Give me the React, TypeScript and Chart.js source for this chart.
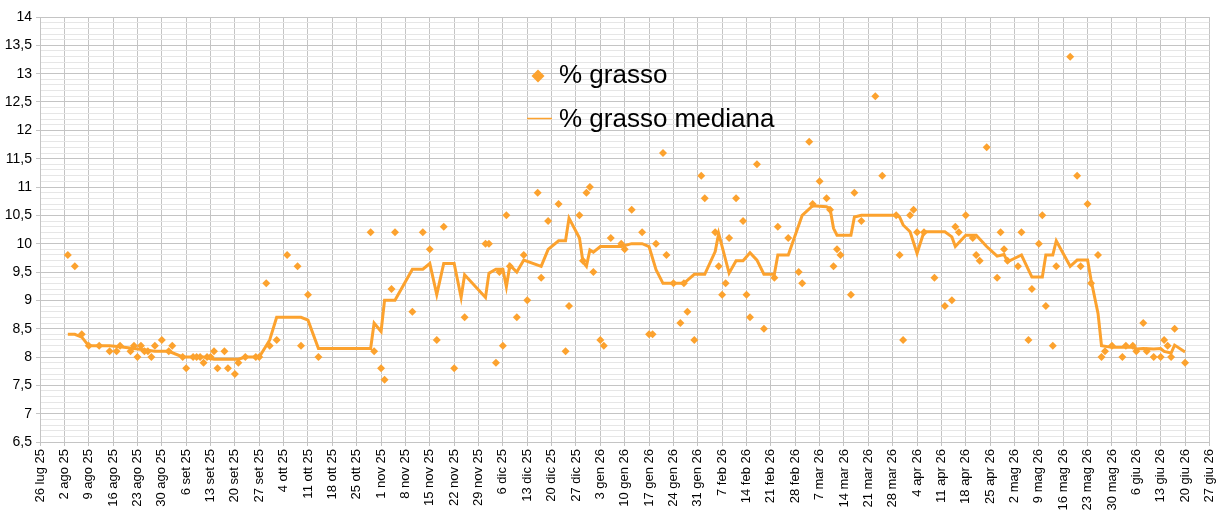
import { useEffect, useRef } from 'react';
import { Chart, registerables } from 'chart.js';

Chart.register(...registerables);

// x values are days since 26 lug 2025
const TICK_LABELS = [
  '26 lug 25', '2 ago 25', '9 ago 25', '16 ago 25', '23 ago 25', '30 ago 25', '6 set 25', '13 set 25',
  '20 set 25', '27 set 25', '4 ott 25', '11 ott 25', '18 ott 25', '25 ott 25', '1 nov 25', '8 nov 25',
  '15 nov 25', '22 nov 25', '29 nov 25', '6 dic 25', '13 dic 25', '20 dic 25', '27 dic 25', '3 gen 26',
  '10 gen 26', '17 gen 26', '24 gen 26', '31 gen 26', '7 feb 26', '14 feb 26', '21 feb 26', '28 feb 26',
  '7 mar 26', '14 mar 26', '21 mar 26', '28 mar 26', '4 apr 26', '11 apr 26', '18 apr 26', '25 apr 26',
  '2 mag 26', '9 mag 26', '16 mag 26', '23 mag 26', '30 mag 26', '6 giu 26', '13 giu 26', '20 giu 26',
  '27 giu 26',
];

const FAT_DAYS = [
  8, 10, 12, 14, 17, 20, 22, 23, 26, 27, 28, 29, 30, 31, 32, 33, 35, 37, 38, 41, 42, 44, 45, 46, 47, 48, 49, 50,
  51, 53, 54, 56, 57, 59, 62, 63, 65, 66, 68, 71, 74, 75, 77, 80, 95, 96, 98, 99, 101, 102, 107, 110, 112, 114,
  116, 119, 122, 128, 129, 131, 132, 133, 134, 135, 137, 139, 140, 143, 144, 146, 149, 151, 152, 155, 156, 157,
  158, 159, 161, 162, 164, 167, 168, 170, 173, 175, 176, 177, 179, 180, 182, 184, 185, 186, 188, 190, 191, 194,
  195, 196, 197, 198, 200, 202, 203, 204, 206, 208, 211, 212, 215, 218, 219, 221, 222, 224, 226, 227, 228, 229,
  230, 233, 234, 236, 240, 242, 246, 247, 248, 250, 251, 252, 254, 257, 260, 262, 263, 264, 266, 268, 269, 270,
  272, 275, 276, 277, 278, 281, 282, 284, 285, 287, 288, 289, 291, 292, 296, 298, 299, 301, 302, 304, 305, 306,
  308, 311, 312, 314, 315, 317, 318, 320, 322, 323, 324, 325, 326, 329,
];
const FAT_VALUES = [
  9.8, 9.6, 8.4, 8.2, 8.2, 8.1, 8.1, 8.2, 8.1, 8.2, 8.0, 8.2, 8.1, 8.1, 8.0, 8.2, 8.3, 8.1, 8.2, 8.0, 7.8, 8.0, 8.0, 8.0, 7.9, 8.0, 8.0, 8.1,
  7.8, 8.1, 7.8, 7.7, 7.9, 8.0, 8.0, 8.0, 9.3, 8.2, 8.3, 9.8, 9.6, 8.2, 9.1, 8.0, 10.2, 8.1, 7.8, 7.6, 9.2, 10.2, 8.8, 10.2, 9.9, 8.3,
  10.3, 7.8, 8.7, 10.0, 10.0, 7.9, 9.5, 8.2, 10.5, 9.6, 8.7, 9.8, 9.0, 10.9, 9.4, 10.4, 10.7, 8.1, 8.9, 10.5, 9.7, 10.9,
  11.0, 9.5, 8.3, 8.2, 10.1, 10.0, 9.9, 10.6, 10.2, 8.4, 8.4, 10.0, 11.6, 9.8, 9.3, 8.6, 9.3, 8.8, 8.3, 11.2, 10.8, 10.2,
  9.6, 9.1, 9.3, 10.1, 10.8, 10.4, 9.1, 8.7, 11.4, 8.5, 9.4, 10.3, 10.1, 9.5, 9.3, 11.8, 10.7, 11.1, 10.8, 10.6, 9.6, 9.9,
  9.8, 9.1, 10.9, 10.4, 12.6, 11.2, 10.5, 9.8, 8.3, 10.5, 10.6, 10.2, 10.2, 9.4, 8.9, 9.0, 10.3, 10.2, 10.5, 10.1, 9.8, 9.7,
  11.7, 9.4, 10.2, 9.9, 9.7, 9.6, 10.2, 8.3, 9.2, 10.0, 10.5, 8.9, 8.2, 9.6, 13.3, 11.2, 9.6, 10.7, 9.3, 9.8, 8.0, 8.1,
  8.2, 8.0, 8.2, 8.2, 8.1, 8.6, 8.1, 8.0, 8.0, 8.3, 8.2, 8.0, 8.5, 7.9,
];

const MEDIAN_DAYS = [
  8, 10, 12, 14, 20, 23, 27, 33, 37, 41, 47, 50, 57, 59, 63, 65, 66, 68, 75, 77, 80, 95, 96, 98, 99, 102, 107, 110,
  112, 114, 116, 119, 121, 122, 128, 129, 131, 133, 134, 135, 137, 139, 144, 146, 149, 151, 152, 155, 156, 157, 158,
  159, 161, 167, 170, 173, 175, 177, 179, 185, 188, 191, 194, 195, 198, 200, 202, 204, 206, 208, 211, 212, 215, 219,
  222, 226, 227, 228, 229, 233, 234, 236, 246, 247, 248, 250, 252, 254, 260, 262, 263, 266, 269, 272, 275, 277, 278,
  282, 285, 288, 289, 291, 292, 296, 298, 301, 302, 304, 305, 308, 314, 315, 317, 320, 322, 323, 325, 326, 329,
];
const MEDIAN_VALUES = [
  8.4, 8.4, 8.35, 8.2, 8.2, 8.18, 8.15, 8.1, 8.1, 8.0, 8.0, 7.96, 7.96, 8.0, 8.0, 8.2, 8.3, 8.7, 8.7, 8.65, 8.15, 8.15, 8.6, 8.45, 9.0, 9.0, 9.55, 9.55,
  9.65, 9.1, 9.65, 9.65, 9.05, 9.45, 9.05, 9.48, 9.55, 9.55, 9.24, 9.62, 9.5, 9.71, 9.6, 9.9, 10.05, 10.05, 10.45, 10.1, 9.68, 9.6, 9.89,
  9.85, 9.95, 9.95, 10.0, 10.0, 9.95, 9.54, 9.3, 9.3, 9.46, 9.46, 9.86, 10.18, 9.48, 9.7, 9.7, 9.84, 9.71, 9.46, 9.46, 9.8, 9.8, 10.5,
  10.67, 10.65, 10.62, 10.27, 10.15, 10.15, 10.47, 10.5, 10.5, 10.47, 10.33, 10.21, 9.83, 10.21, 10.21, 10.12, 9.95, 10.15, 10.15, 9.95, 9.78, 9.81, 9.68,
  9.8, 9.41, 9.41, 9.8, 9.8, 10.05, 9.6, 9.71, 9.71, 9.36, 8.77, 8.2, 8.17, 8.17, 8.14, 8.15, 8.14, 8.15, 8.1, 8.07, 8.21, 8.09,
];

const X_MIN = 0;
const X_MAX = 336;
const X_STEP = 7;
const Y_MIN = 6.5;
const Y_MAX = 14;

const ORANGE = '#fca22e';
const FONT = '"Liberation Sans", Arial, sans-serif';
const MAJOR_GRID = '#c4c4c4';
const MINOR_GRID = '#e6e6e6';

const isMajorY = (v: number) => Math.round(v * 10) % 5 === 0;

const legendPlugin = {
  id: 'insideLegend',
  afterDraw(chart: any) {
    const { ctx, chartArea } = chart;
    const x0 = chartArea.left + 498;
    const y0 = chartArea.top;
    ctx.save();
    // diamond marker
    ctx.fillStyle = ORANGE;
    ctx.beginPath();
    ctx.moveTo(x0, y0 + 52.5);
    ctx.lineTo(x0 + 6.5, y0 + 59);
    ctx.lineTo(x0, y0 + 65.5);
    ctx.lineTo(x0 - 6.5, y0 + 59);
    ctx.closePath();
    ctx.fill();
    // line marker
    ctx.strokeStyle = ORANGE;
    ctx.lineWidth = 1.5;
    ctx.beginPath();
    ctx.moveTo(x0 - 11, y0 + 101.5);
    ctx.lineTo(x0 + 14, y0 + 101.5);
    ctx.stroke();
    ctx.fillStyle = '#000';
    ctx.font = `26px ${FONT}`;
    ctx.textAlign = 'left';
    ctx.textBaseline = 'alphabetic';
    ctx.fillText(chart.data.datasets[1].label, x0 + 21, y0 + 66);
    ctx.fillText(chart.data.datasets[0].label, x0 + 21, y0 + 110);
    ctx.restore();
  },
};

export default function App() {
  const ref = useRef<HTMLCanvasElement>(null);
  useEffect(() => {
    const chart = new Chart(ref.current as HTMLCanvasElement, {
      type: 'scatter',
      data: {
        datasets: [
          {
            label: '% grasso mediana',
            data: MEDIAN_DAYS.map((d, i) => ({ x: d, y: MEDIAN_VALUES[i] })),
            showLine: true,
            borderColor: ORANGE,
            backgroundColor: ORANGE,
            borderWidth: 3,
            pointRadius: 0,
            pointHoverRadius: 0,
            tension: 0,
            order: 0,
          },
          {
            label: '% grasso',
            data: FAT_DAYS.map((d, i) => ({ x: d, y: FAT_VALUES[i] })),
            showLine: false,
            pointStyle: 'rectRot',
            pointRadius: 4,
            backgroundColor: ORANGE,
            borderColor: ORANGE,
            borderWidth: 0,
            order: 1,
          },
        ],
      },
      options: {
        animation: false,
        responsive: false,
        devicePixelRatio: 1,
        layout: { padding: { top: 17, right: 13, left: 0, bottom: 0 } },
        plugins: { legend: { display: false }, tooltip: { enabled: false } },
        scales: {
          x: {
            type: 'linear',
            min: X_MIN,
            max: X_MAX,
            afterFit: (scale: any) => {
              scale.height = 78;
            },
            afterBuildTicks: (scale: any) => {
              const t = [];
              for (let v = X_MIN; v <= X_MAX; v += X_STEP) t.push({ value: v });
              scale.ticks = t;
            },
            ticks: {
              autoSkip: false,
              maxRotation: 90,
              minRotation: 90,
              padding: 3,
              color: '#000',
              font: { family: FONT, size: 13 },
              callback: (v: any) => TICK_LABELS[Math.round(Number(v) / X_STEP)] ?? '',
            },
            grid: { color: MAJOR_GRID, tickLength: 4, lineWidth: 1 },
            border: { color: MAJOR_GRID },
          },
          y: {
            type: 'linear',
            min: Y_MIN,
            max: Y_MAX,
            afterFit: (scale: any) => {
              scale.width = 40;
            },
            afterBuildTicks: (scale: any) => {
              const t = [];
              for (let k = Math.round(Y_MIN * 10); k <= Math.round(Y_MAX * 10); k++) t.push({ value: k / 10 });
              scale.ticks = t;
            },
            ticks: {
              autoSkip: false,
              padding: 4,
              color: '#000',
              font: { family: FONT, size: 14 },
              callback: (v: any) => (isMajorY(Number(v)) ? String(Math.round(Number(v) * 2) / 2).replace('.', ',') : ''),
            },
            grid: {
              tickLength: 4,
              color: (c: any) => (c.tick && isMajorY(c.tick.value) ? MAJOR_GRID : MINOR_GRID),
              tickColor: (c: any) => (c.tick && isMajorY(c.tick.value) ? MAJOR_GRID : 'rgba(0,0,0,0)'),
            },
            border: { color: MAJOR_GRID },
          },
        },
      },
      plugins: [legendPlugin],
    });
    return () => chart.destroy();
  }, []);
  return (
    <div style={{ position: 'fixed', left: 0, top: 0, width: 1228, height: 520, background: '#fff' }}>
      <canvas ref={ref} width={1228} height={520} style={{ width: 1228, height: 520, display: 'block' }} />
    </div>
  );
}
